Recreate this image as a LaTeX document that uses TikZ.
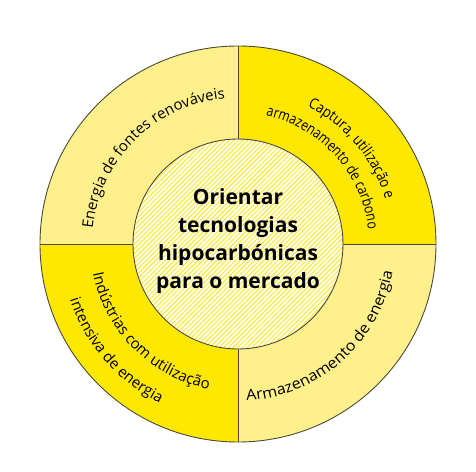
\documentclass[tikz,border=0pt]{standalone}
\usepackage{fontspec}
\setmainfont{Open Sans}
\newfontfamily\condouter[FakeStretch=0.88]{Open Sans}
\newfontfamily\condinner[FakeStretch=0.82]{Open Sans}
\newfontfamily\widefam[FakeStretch=1.08]{Open Sans}
\usetikzlibrary{decorations.text}
\definecolor{lightyel}{HTML}{FFF08C}
\definecolor{brightyel}{HTML}{FFE800}
\definecolor{edge}{HTML}{4A4838}
\newcommand\arclabelfont{\fontsize{15}{18}\selectfont}
\newcommand\arclabelouter{\condouter\fontsize{15}{18}\selectfont}
\newcommand\arclabelinner{\condinner\fontsize{15}{18}\selectfont}
\newcommand\arclabelwide{\widefam\fontsize{15}{18}\selectfont}
\tikzset{
  sector/.style={draw=edge, line width=0.9pt},
  arclabel/.style={decorate, decoration={text along path, text align=center, text={|\arclabelfont|#1}}},
  arclabelout/.style={decorate, decoration={text along path, text align=center, text={|\arclabelouter|#1}}},
  arclabelin/.style={decorate, decoration={text along path, text align=center, text={|\arclabelinner|#1}}},
  arclabelwide/.style={decorate, decoration={text along path, text align=center, text={|\arclabelwide|#1}}},
}
\begin{document}
\begin{tikzpicture}[x=1pt,y=1pt]
\useasboundingbox (-238pt,-227pt) rectangle (238pt,244pt);
% quadrants
\fill[lightyel] (0,0) -- (90:198pt) arc[start angle=90, end angle=180, radius=198pt] -- cycle;
\fill[brightyel] (0,0) -- (0:198pt) arc[start angle=0, end angle=90, radius=198pt] -- cycle;
\fill[lightyel] (0,0) -- (270:198pt) arc[start angle=270, end angle=360, radius=198pt] -- cycle;
\fill[brightyel] (0,0) -- (180:198pt) arc[start angle=180, end angle=270, radius=198pt] -- cycle;
\draw[sector] (0,0) circle[radius=198pt];
\draw[sector] (0,105pt) -- (0,198pt);
\draw[sector] (0,-105pt) -- (0,-198pt);
\draw[sector] (105pt,0) -- (198pt,0);
\draw[sector] (-105pt,0) -- (-198pt,0);
% inner hatched circle
\fill[white] (0,0) circle[radius=105pt];
\begin{scope}
  \clip (0,0) circle[radius=105pt];
  \foreach \i in {-50,...,50} {
    \draw[brightyel, line width=0.8pt] ({\i*4.7pt-120pt},-120pt) -- ({\i*4.7pt+120pt},120pt);
  }
\end{scope}
\draw[sector] (0,0) circle[radius=105pt];
\node[font=\fontsize{21}{28}\selectfont\bfseries, align=center] (centre) at (0,3pt)
  {Orientar\\tecnologias\\hipocarbónicas\\para o mercado};
% curved labels
\path[arclabel={Energia de fontes renováveis}] (194.5:146pt) arc[start angle=194.5, end angle=74.5, radius=146pt];
\path[arclabelout={Captura, utilização e}] (100:154pt) arc[start angle=100, end angle=-20, radius=154pt];
\path[arclabelin={armazenamento de carbono}] (102:131pt) arc[start angle=102, end angle=-18, radius=131pt];
\path[arclabelwide={Armazenamento de energia}] (-108.5:157pt) arc[start angle=-108.5, end angle=11.5, radius=157pt];
\path[arclabel={Indústrias com utilização}] (165:148pt) arc[start angle=165, end angle=285, radius=148pt];
\path[arclabel={intensiva de energia}] (161:177pt) arc[start angle=161, end angle=281, radius=177pt];
\end{tikzpicture}
\end{document}
